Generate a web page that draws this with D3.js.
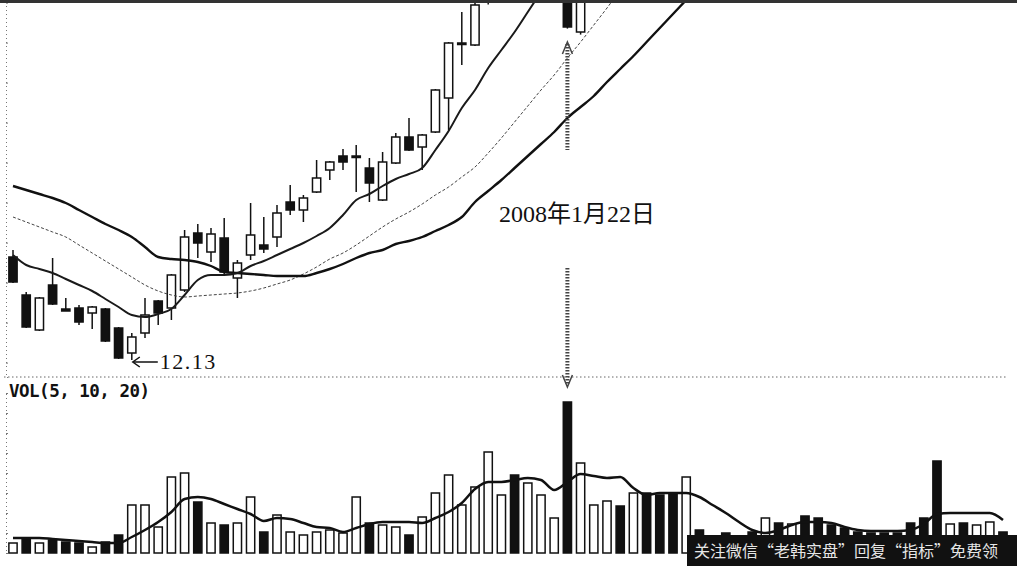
<!DOCTYPE html>
<html>
<head>
<meta charset="utf-8">
<script src="https://cdn.jsdelivr.net/npm/d3@7"></script>
<style>
  html, body { margin: 0; padding: 0; background: #fff; }
  #chart { width: 1017px; height: 566px; }
</style>
</head>
<body>
<div id="chart"></div>
<script>
// daily candles (price, yuan); 36-43 run above the visible area
const opens  = [17.28,15.38,13.63,15.88,14.68,14.73,14.48,14.68,13.73,12.48,13.48,15.08,14.73,15.63,18.48,17.53,18.23,16.23,17.38,17.88,18.28,20.03,19.63,20.53,21.63,22.33,22.28,21.73,20.13,21.98,23.28,22.78,23.53,25.23,27.98,27.88,30.10,31.40,32.50,33.60,32.80,34.10,33.20,28.53];
const highs  = [17.63,15.53,15.28,17.23,15.23,14.88,14.83,14.73,13.78,13.48,15.23,15.13,16.43,18.63,18.93,18.73,19.23,17.13,19.98,19.28,19.88,20.88,20.38,22.13,22.08,22.68,22.88,22.23,22.53,23.48,24.23,23.43,25.68,28.03,29.53,30.38,31.60,32.80,33.90,34.20,34.50,35.00,33.60,31.20];
const lows   = [15.98,13.73,13.58,14.88,14.58,13.88,13.68,13.03,12.18,12.13,13.23,13.88,14.13,15.53,17.23,17.03,16.43,15.23,17.13,17.48,17.78,19.38,19.03,20.48,21.13,21.63,20.53,20.03,20.08,21.93,22.58,21.63,23.48,23.63,26.88,27.83,29.90,31.00,32.20,32.40,32.60,33.00,28.70,28.40];
const closes = [16.03,13.78,15.23,14.93,14.58,14.03,14.78,13.08,12.23,13.28,14.38,14.48,16.38,18.28,17.98,18.43,16.53,16.98,18.38,17.68,19.48,19.63,20.23,21.23,22.03,22.03,22.33,20.98,22.03,23.28,22.63,23.38,25.63,27.98,27.93,29.88,31.40,32.50,33.60,32.80,34.10,33.40,28.78,30.90];

// moving averages
const ma5  = [17.38,16.88,16.68,16.48,16.18,15.88,15.58,15.18,14.78,14.38,14.28,14.43,14.68,15.38,16.13,16.38,16.38,16.48,16.83,17.08,17.38,17.68,17.98,18.33,18.73,19.38,20.13,20.43,20.83,21.18,21.43,21.73,22.63,23.58,24.73,25.63,26.73,27.63,28.53,29.53,30.53];
const ma10 = [19.28,19.03,18.78,18.53,18.28,17.88,17.48,17.08,16.68,16.28,15.88,15.58,15.38,15.28,15.33,15.38,15.43,15.48,15.58,15.73,15.93,16.13,16.43,16.78,17.18,17.48,17.88,18.33,18.78,19.18,19.53,19.93,20.38,20.78,21.28,21.78,22.48,23.23,24.03,24.83,25.63,26.38,27.23,28.03,28.88,29.73,30.63];
const ma30 = [20.83,20.63,20.43,20.23,19.98,19.63,19.28,18.93,18.63,18.28,17.78,17.28,17.18,17.13,17.03,16.83,16.53,16.48,16.43,16.38,16.33,16.33,16.33,16.48,16.68,16.93,17.23,17.48,17.63,17.93,18.08,18.28,18.58,18.88,19.28,20.03,20.58,21.13,21.73,22.33,22.93,23.53,24.23,24.78,25.33,26.03,26.68,27.33,28.03,28.73,29.43,30.13,30.83];

// volume panel
const volumes = [10,15,10,13,11,10,6,11,18,48,48,26,76,80,51,30,28,30,56,21,38,21,18,21,23,20,56,30,28,26,18,36,60,78,48,66,101,58,78,70,58,35,151,90,48,52,47,60,60,58,60,76,23,13,20,8,21,35,30,29,37,35,28,25,21,20,20,20,30,35,92,29,30,28,31,21];
const volUp = [1,0,1,0,0,0,1,0,0,1,1,1,1,1,0,1,0,1,1,0,1,1,1,1,1,1,1,0,1,1,0,1,1,1,1,1,1,1,0,1,1,1,0,1,1,1,0,1,0,0,0,1,0,0,0,1,0,1,0,1,0,0,0,0,0,0,0,0,0,0,0,1,0,1,1,0];
const volMa = [15,15,15,14,13,12,11,10,10,16,23,31,41,54,56,54,49,44,39,32,35,34,30,26,25,21,25,29,31,31,31,30,35,41,50,64,71,71,73,75,73,63,71,79,77,75,76,65,58,60,60,60,56,48,40,31,23,20,23,28,31,31,30,26,23,22,22,22,23,29,39,40,40,40,40,33];

const markDay = 42;
const lowDay = 9;
const dateLabel = "2008年1月22日";
const lowLabel = "12.13";
const volTitle = "VOL(5, 10, 20)";
const footerText = "关注微信“老韩实盘”回复“指标”免费领";

const width = 1017;
const height = 566;
const priceTop = 3;
const priceBottom = 376;
const volBottom = 553;

const svg = d3.select("#chart")
  .append("svg")
  .attr("width", width)
  .attr("height", height);

const x = d3.scaleBand()
  .domain(d3.range(volumes.length))
  .range([6.4, 1009.6])
  .paddingInner(0.3)
  .paddingOuter(0.15);
const cx = (i) => x(i) + x.bandwidth() / 2;

const y = d3.scaleLinear().domain([11.28, 30.13]).range([377, 0]);
const yVol = d3.scaleLinear().domain([0, 160]).range([volBottom, volBottom - 160]);

svg.append("clipPath")
  .attr("id", "priceClip")
  .append("rect")
  .attr("x", 0)
  .attr("y", priceTop)
  .attr("width", width)
  .attr("height", priceBottom - priceTop);

// left dotted axis
svg.append("g")
  .attr("transform", "translate(6,0)")
  .call(d3.axisRight(y).ticks(12).tickSize(2).tickFormat(""))
  .call((g) => g.select(".domain").attr("stroke", "#777").attr("stroke-dasharray", "1,3"))
  .call((g) => g.selectAll(".tick line").attr("stroke", "#777"));

svg.append("g")
  .attr("transform", "translate(6,0)")
  .call(d3.axisRight(yVol).ticks(8).tickSize(2).tickFormat(""))
  .call((g) => g.select(".domain").attr("stroke", "#777").attr("stroke-dasharray", "1,3"))
  .call((g) => g.selectAll(".tick line").attr("stroke", "#777"));

// separator
svg.append("line")
  .attr("x1", 4)
  .attr("x2", 1006)
  .attr("y1", 377)
  .attr("y2", 377)
  .attr("stroke", "#666")
  .attr("stroke-dasharray", "1.5,2.5");

const price = svg.append("g").attr("clip-path", "url(#priceClip)");

const candles = price.selectAll("g.candle")
  .data(opens.map((o, i) => ({ i: i, o: o, h: highs[i], l: lows[i], c: closes[i] })))
  .enter()
  .append("g")
  .attr("class", "candle");

candles.append("line")
  .attr("x1", (d) => cx(d.i))
  .attr("x2", (d) => cx(d.i))
  .attr("y1", (d) => y(d.h))
  .attr("y2", (d) => y(d.l))
  .attr("stroke", "#111")
  .attr("stroke-width", 1.5);

candles.append("rect")
  .attr("x", (d) => x(d.i) + 0.5)
  .attr("width", x.bandwidth() - 1)
  .attr("y", (d) => y(Math.max(d.o, d.c)))
  .attr("height", (d) => Math.max(1.5, Math.abs(y(d.o) - y(d.c))))
  .attr("fill", (d) => d.c >= d.o ? "#fff" : "#111")
  .attr("stroke", "#111")
  .attr("stroke-width", 1.5);

const maLine = d3.line()
  .x((d, i) => cx(i))
  .y((d) => y(d))
  .curve(d3.curveMonotoneX);

price.append("path")
  .attr("d", maLine(ma10))
  .attr("fill", "none")
  .attr("stroke", "#444")
  .attr("stroke-width", 1)
  .attr("stroke-dasharray", "3,2");

price.append("path")
  .attr("d", maLine(ma30))
  .attr("fill", "none")
  .attr("stroke", "#111")
  .attr("stroke-width", 2.4);

price.append("path")
  .attr("d", maLine(ma5))
  .attr("fill", "none")
  .attr("stroke", "#1a1a1a")
  .attr("stroke-width", 2);

// volume bars
svg.append("g")
  .selectAll("rect")
  .data(volumes)
  .enter()
  .append("rect")
  .attr("x", (d, i) => x(i) + 0.5)
  .attr("width", x.bandwidth() - 1)
  .attr("y", (d) => yVol(d))
  .attr("height", (d) => volBottom - yVol(d))
  .attr("fill", (d, i) => volUp[i] ? "#fff" : "#111")
  .attr("stroke", "#111")
  .attr("stroke-width", 1.5);

svg.append("path")
  .attr("d", d3.line().x((d, i) => cx(i)).y((d) => yVol(d)).curve(d3.curveMonotoneX)(volMa))
  .attr("fill", "none")
  .attr("stroke", "#111")
  .attr("stroke-width", 2.5);

svg.append("text")
  .attr("x", 9)
  .attr("y", 397)
  .attr("style", "font-family: 'DejaVu Sans Mono', monospace; font-size: 17.5px; font-weight: bold; letter-spacing: -0.5px; fill: #111;")
  .text(volTitle);

// date marker arrows
const mx = cx(markDay);
const arrowStyle = (sel) => sel
  .attr("stroke", "#444")
  .attr("stroke-width", 4)
  .attr("stroke-dasharray", "1.5,1.5")
  .attr("fill", "none");

svg.append("line").attr("x1", mx).attr("x2", mx).attr("y1", 44).attr("y2", 150).call(arrowStyle);
svg.append("path").attr("d", "M" + (mx - 5) + ",54L" + mx + ",42L" + (mx + 5) + ",54").attr("stroke", "#444").attr("stroke-width", 1.5).attr("fill", "none");
svg.append("line").attr("x1", mx).attr("x2", mx).attr("y1", 268).attr("y2", 384).call(arrowStyle);
svg.append("path").attr("d", "M" + (mx - 5) + ",375L" + mx + ",387L" + (mx + 5) + ",375").attr("stroke", "#444").attr("stroke-width", 1.5).attr("fill", "none");

svg.append("text")
  .attr("x", 499)
  .attr("y", 222)
  .attr("style", "font-family: 'Liberation Serif', 'Noto Sans CJK SC', serif; font-size: 24px; fill: #111;")
  .text(dateLabel);

// low marker
const lx = cx(lowDay);
const ly = y(lows[lowDay]) + 2;
svg.append("line")
  .attr("x1", lx + 2)
  .attr("x2", lx + 26)
  .attr("y1", ly)
  .attr("y2", ly)
  .attr("stroke", "#111")
  .attr("stroke-width", 1.5);
svg.append("path")
  .attr("d", "M" + (lx + 8) + "," + (ly - 5) + "L" + (lx + 1) + "," + ly + "L" + (lx + 8) + "," + (ly + 5))
  .attr("stroke", "#111")
  .attr("stroke-width", 1.5)
  .attr("fill", "none");
svg.append("text")
  .attr("x", lx + 28)
  .attr("y", ly + 7)
  .attr("style", "font-family: 'Liberation Serif', serif; font-size: 22px; letter-spacing: 1.5px; fill: #111;")
  .text(lowLabel);

// top bar and footer banner
svg.append("rect")
  .attr("x", 0)
  .attr("y", 0)
  .attr("width", width)
  .attr("height", 3)
  .attr("fill", "#333");

svg.append("rect")
  .attr("x", 687)
  .attr("y", 535)
  .attr("width", width - 687)
  .attr("height", height - 535)
  .attr("fill", "#111");

svg.append("text")
  .attr("x", 694)
  .attr("y", 557)
  .attr("style", "font-family: 'Noto Sans CJK SC', sans-serif; font-size: 16px; fill: #e6e6e6;")
  .text(footerText);
</script>
</body>
</html>
